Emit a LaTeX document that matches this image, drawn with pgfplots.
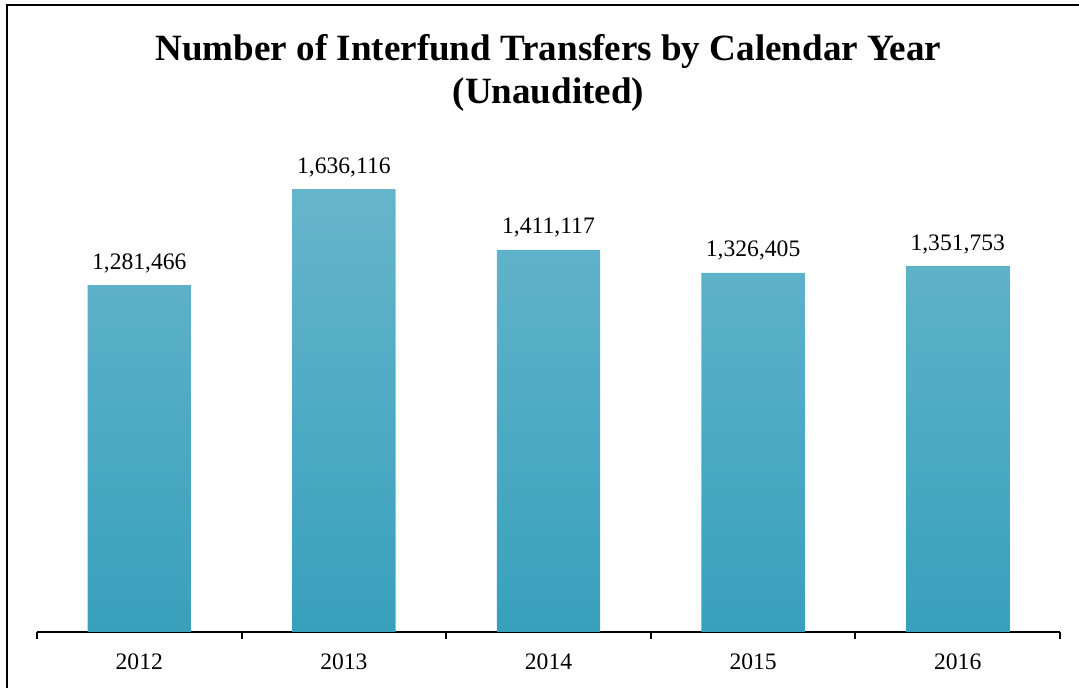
\documentclass[border=0pt]{standalone}
\usepackage{pgfplots}
\pgfplotsset{compat=1.18}
\usepackage{fontspec}
\setmainfont{Liberation Serif}
\definecolor{bartop}{RGB}{102,181,204}
\definecolor{barmid}{RGB}{72,175,205}
\definecolor{barbot}{RGB}{56,160,188}
\begin{document}
\begin{tikzpicture}[x=0.75pt,y=0.75pt]
\begin{axis}[
  at={(27.75pt,42pt)}, anchor=south west,
  scale only axis,
  width=767.25pt, height=365.5pt,
  xmin=-0.5, xmax=4.5,
  ymin=0, ymax=1800000,
  hide y axis,
  axis x line*=bottom,
  x axis line style={line width=1.5pt, black},
  xtick={0,1,2,3,4},
  xticklabels={2012,2013,2014,2015,2016},
  major x tick style={draw=none},
  minor xtick={-0.5,0.5,1.5,2.5,3.5,4.5},
  minor x tick style={line width=1.5pt, black},
  minor tick length=5.25pt,
  tick align=outside,
  xticklabel style={font=\fontsize{17.7}{20}\selectfont, anchor=base, yshift=-23.75pt},
  ybar, bar width=0.505,
  point meta=explicit symbolic,
  nodes near coords,
  nodes near coords style={font=\fontsize{17.7}{20}\selectfont, anchor=base, yshift=12pt},
  clip=false,
]
\addplot[draw=none, top color=bartop, middle color=barmid, bottom color=barbot]
  table[x=x, y=y, meta=lab] {
x y lab
0 1281466 {1,281,466}
1 1636116 {1,636,116}
2 1411117 {1,411,117}
3 1326405 {1,326,405}
4 1351753 {1,351,753}
};
\end{axis}
% title
\node[font=\fontsize{27.8}{32}\selectfont\bfseries, anchor=base] at (548.5,627) {Number of Interfund Transfers by Calendar Year};
\node[font=\fontsize{27.8}{32}\selectfont\bfseries, anchor=base] at (548.5,584) {(Unaudited)};
% frame (extends beyond the picture on the right and bottom)
\draw[line width=1.6pt] (7,-10) -- (7,683) -- (1090,683);
\pgfresetboundingbox
\useasboundingbox (0,0) rectangle (1079,688);
\end{tikzpicture}
\end{document}
